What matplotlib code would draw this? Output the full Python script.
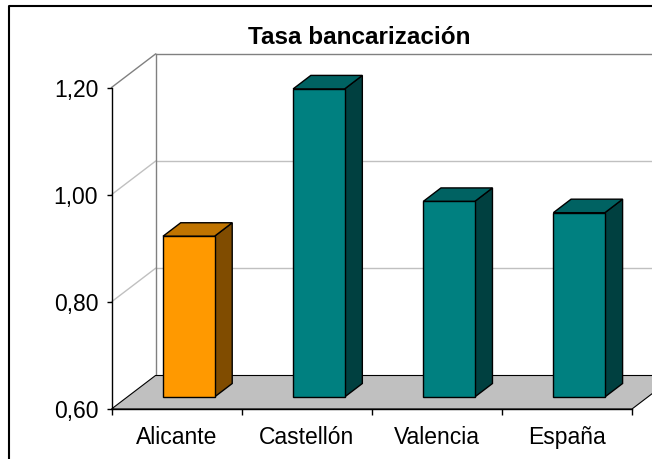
import matplotlib
matplotlib.use("Agg")
import matplotlib.pyplot as plt
from matplotlib.patches import Polygon, Rectangle
from matplotlib.lines import Line2D
import numpy as np

plt.rcParams['font.family'] = ['Liberation Sans', 'DejaVu Sans']

# ---- data ----
categories = ["Alicante", "Castellón", "Valencia", "España"]
values = [0.90, 1.175, 0.965, 0.944]
y_ticks = [0.60, 0.80, 1.00, 1.20]
y_tick_labels = ["0,60", "0,80", "1,00", "1,20"]
title = "Tasa bancarización"

front_colors = ["#FF9900", "#008080", "#008080", "#008080"]
top_colors = ["#C07400", "#006262", "#006262", "#006262"]
side_colors = ["#804C00", "#004040", "#004040", "#004040"]

W, H = 657, 459
fig = plt.figure(figsize=(W / 100, H / 100), dpi=100)

# front plane of the 3D box in pixels
x0, x1 = 111.5, 632.0
ytop, ybot = 87.5, 409.0
ax = fig.add_axes([x0 / W, (H - ybot) / H, (x1 - x0) / W, (ybot - ytop) / H])
ax.set_xlim(-0.5, len(categories) - 0.5)
ax.set_ylim(y_ticks[0], y_ticks[-1])
ax.patch.set_visible(False)

px_per_cat = (x1 - x0) / len(categories)
px_per_val = (ybot - ytop) / (y_ticks[-1] - y_ticks[0])

# depth offsets (data units)
DX = 44.0 / px_per_cat
DY = 33.5 / px_per_val
BDX = 17.7 / px_per_cat
BDY = 13.5 / px_per_val
FOFF = 12.0 / px_per_val     # bar front face floor offset
XOFF = 12.2 / px_per_cat     # bar front face horizontal offset
BW = 51.5 / px_per_cat       # bar width

vmin = y_ticks[0]
xl, xr = -0.5, len(categories) - 0.5

# back wall gridlines and left wall diagonals
for v in y_ticks[1:]:
    col = "#808080" if v == y_ticks[-1] else "#C0C0C0"
    ax.plot([xl + DX, xr + DX + 1], [v + DY, v + DY], color=col, lw=1.0, clip_on=False, zorder=1)
    ax.plot([xl, xl + DX], [v, v + DY], color=col, lw=1.0, clip_on=False, zorder=1)
ax.plot([xl + DX, xl + DX], [vmin + DY, y_ticks[-1] + DY], color="#808080", lw=1.0, clip_on=False, zorder=1)

# floor
floor = Polygon([(xl, vmin), (xr, vmin), (xr + DX, vmin + DY), (xl + DX, vmin + DY)],
                closed=True, facecolor="#C0C0C0", edgecolor="black", lw=0.8, clip_on=False, zorder=2)
ax.add_patch(floor)

# bars
idx = np.arange(len(categories))
bars = ax.bar(idx + XOFF, np.array(values) - vmin, bottom=vmin + FOFF, width=BW,
              color=front_colors, edgecolor="black", linewidth=1.0, clip_on=False, zorder=5)
for i, b in enumerate(bars):
    bl = b.get_x()
    br = bl + b.get_width()
    bb = b.get_y()
    bt = bb + b.get_height()
    side = Polygon([(br, bb), (br, bt), (br + BDX, bt + BDY), (br + BDX, bb + BDY)], closed=True,
                   facecolor=side_colors[i], edgecolor="black", lw=1.0, clip_on=False, zorder=4)
    top = Polygon([(bl, bt), (br, bt), (br + BDX, bt + BDY), (bl + BDX, bt + BDY)], closed=True,
                  facecolor=top_colors[i], edgecolor="black", lw=1.0, clip_on=False, zorder=4)
    ax.add_patch(side)
    ax.add_patch(top)

# axes
for s in ["top", "right"]:
    ax.spines[s].set_visible(False)
for s in ["left", "bottom"]:
    ax.spines[s].set_color("black")
    ax.spines[s].set_linewidth(1.0)
    ax.spines[s].set_zorder(6)
ax.set_yticks(y_ticks)
ax.set_yticklabels(y_tick_labels)
ax.tick_params(axis="y", direction="out", length=3.6, width=1.0, pad=6, labelsize=16.5)
ax.set_xticks(np.arange(len(categories) + 1) - 0.5)
ax.set_xticklabels([])
ax.tick_params(axis="x", which="major", direction="out", length=4.5, width=1.0)
ax.set_xticks(idx, minor=True)
ax.set_xticklabels(categories, minor=True)
ax.tick_params(axis="x", which="minor", length=0, pad=12, labelsize=16.5)

# title
fig.text(359.5 / W, 1 - 38 / H, title, ha="center", va="center", fontsize=17.5, fontweight="bold")

# chart frame
fig.add_artist(Line2D([8.5 / W, 8.5 / W, 1.0], [0.0, 1 - 5.5 / H, 1 - 5.5 / H],
                      transform=fig.transFigure, color="black", lw=1.5))
# right crop
fig.add_artist(Rectangle((652 / W, 0), 5 / W, 1, transform=fig.transFigure,
                         facecolor="white", edgecolor="none", zorder=100))

fig.savefig("out.png", dpi=100)
